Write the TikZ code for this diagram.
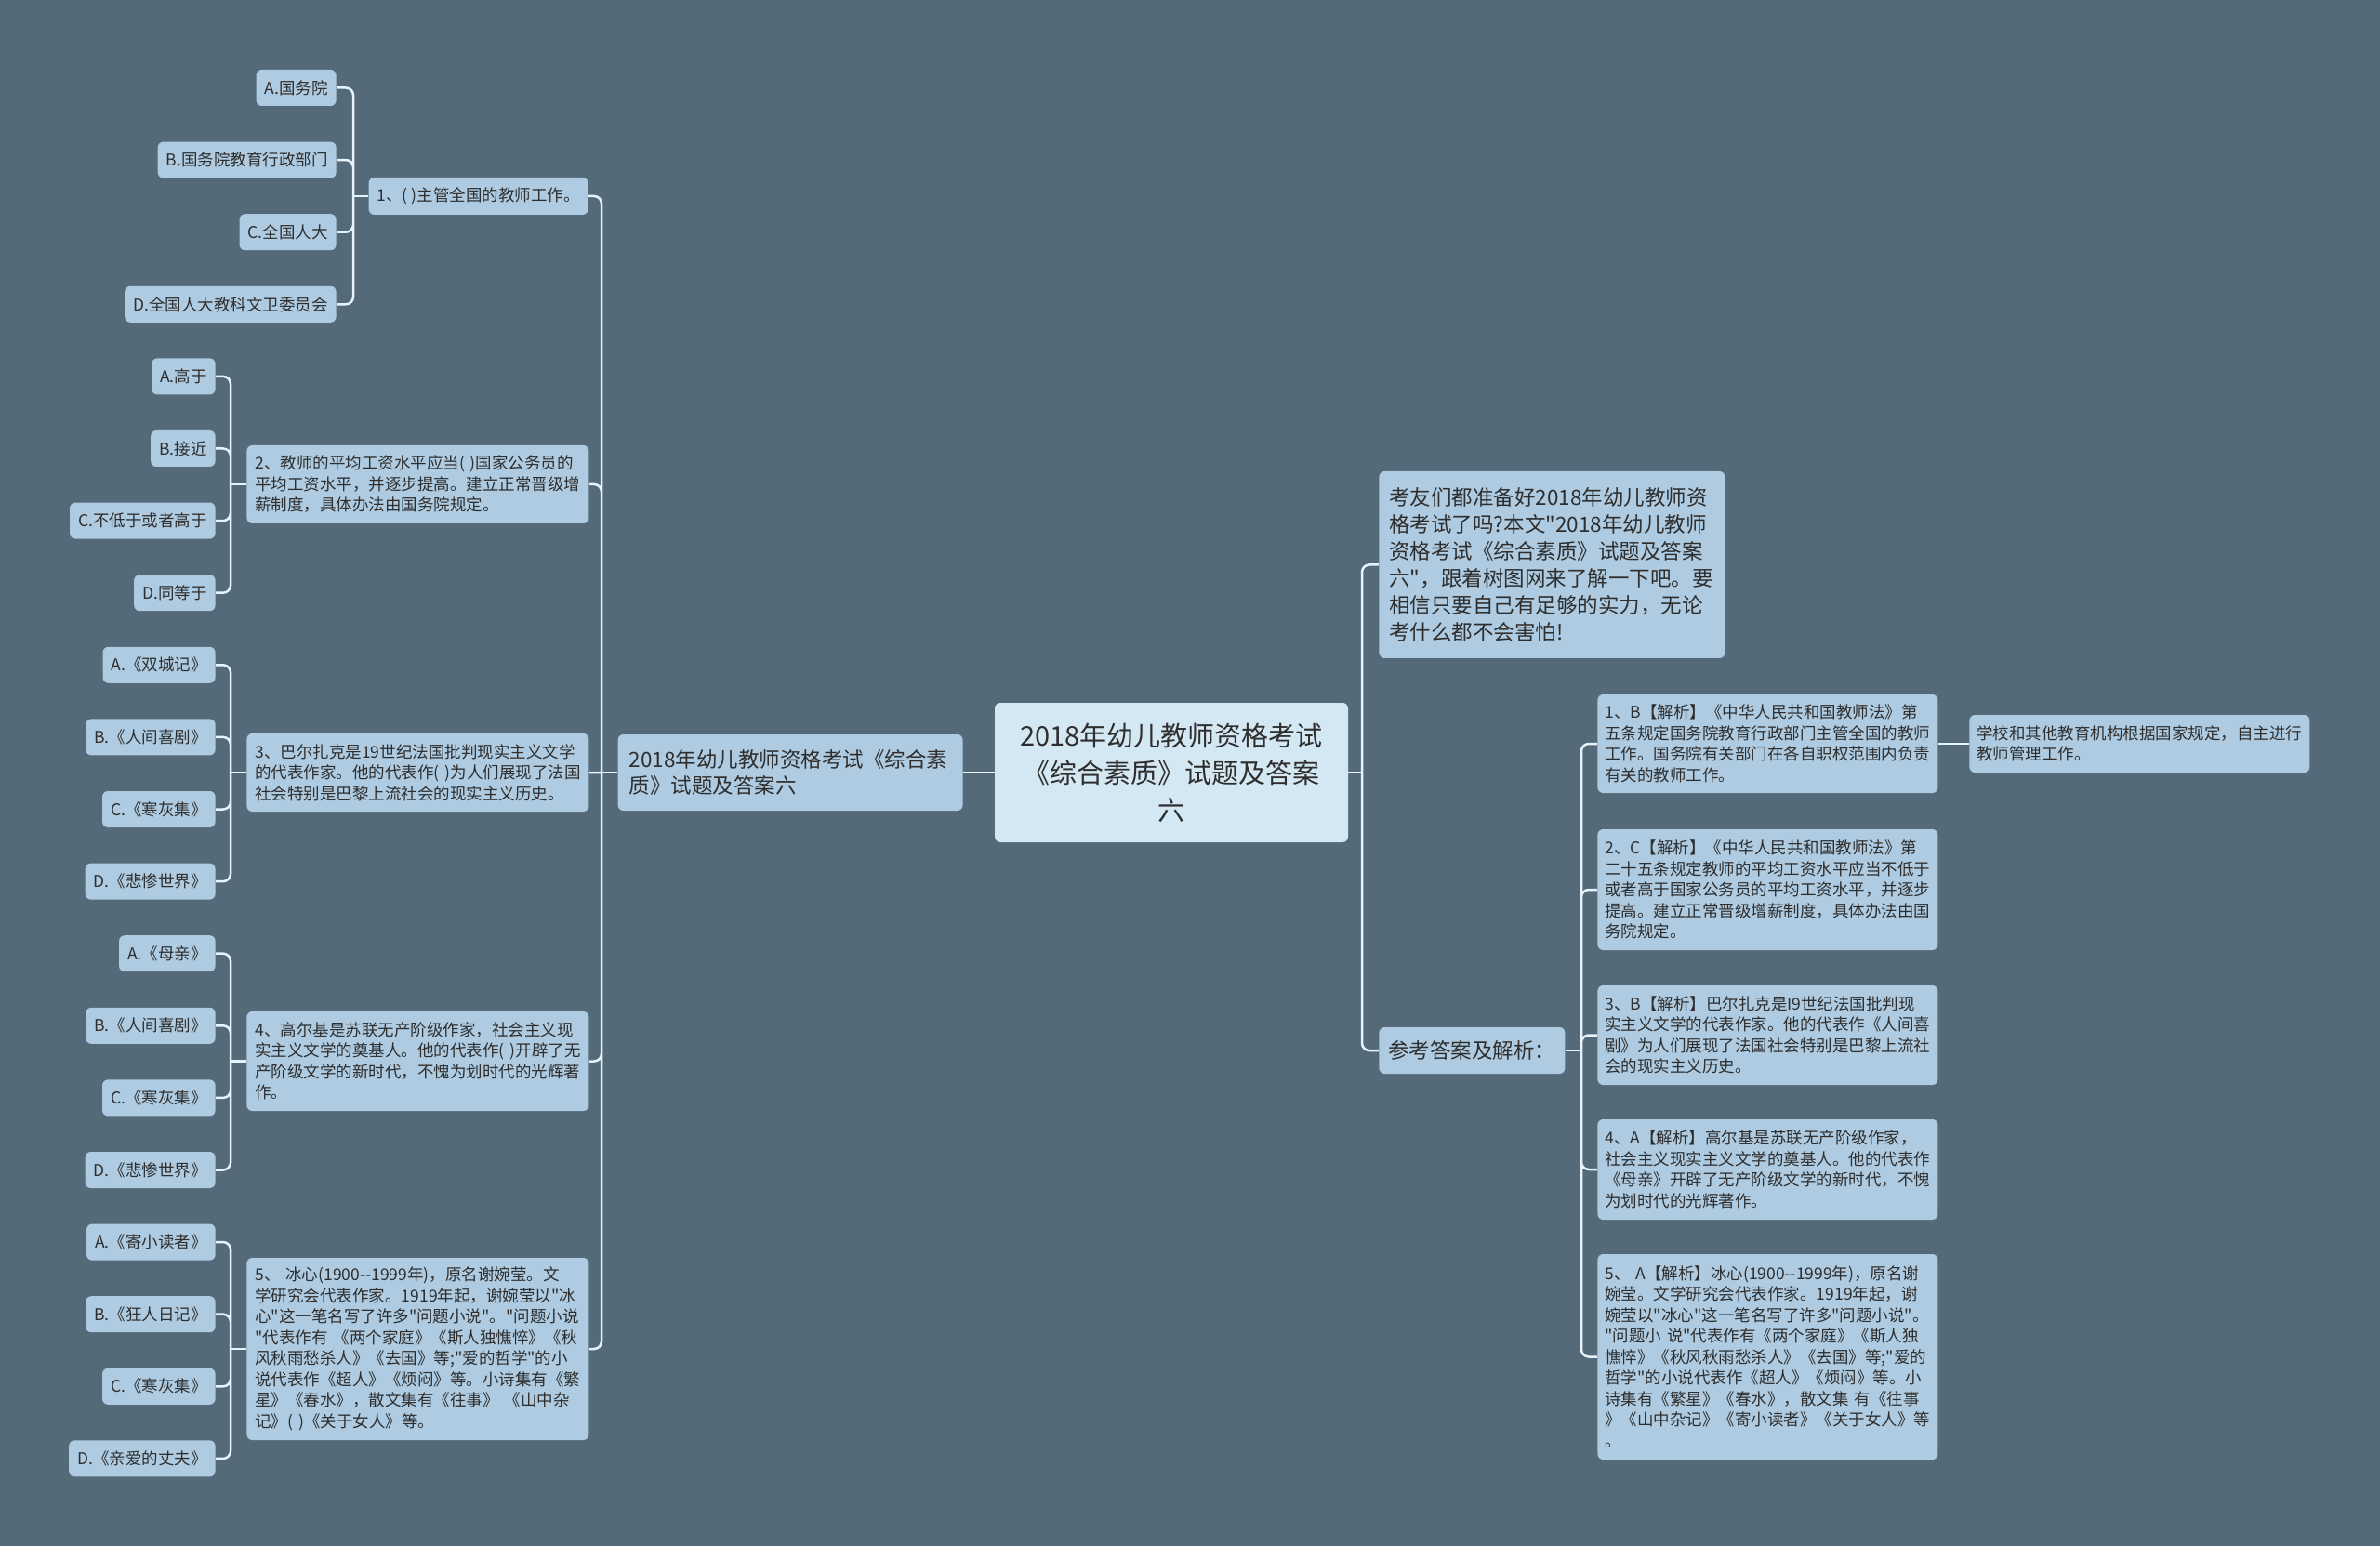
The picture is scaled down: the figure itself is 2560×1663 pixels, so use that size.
\documentclass[tikz,border=0pt]{standalone}
\usepackage{fontspec}
\defaultfontfeatures[\rmfamily]{}
\setmainfont{Noto Sans CJK SC}
\begin{document}
\begin{tikzpicture}[x=0.5pt,y=-0.5pt,
  box/.style={fill=boxblue,rounded corners=3pt,text=inkgrey,inner xsep=4.5pt,inner ysep=0pt,align=left},
  small/.style={font=\fontsize{8.75}{11.25}\selectfont},
  leaf/.style={box,small,anchor=east,minimum height=19.5pt},
  topic/.style={box,small,anchor=west,text width=175pt},
  answer/.style={box,small,anchor=west,text width=175pt,inner xsep=4pt},
  link/.style={draw=linkwhite,line width=1.25pt,rounded corners=4pt}]
  \definecolor{bgslate}{HTML}{546A79}
  \definecolor{boxblue}{HTML}{AECBE1}
  \definecolor{rootblue}{HTML}{D4E8F4}
  \definecolor{linkwhite}{HTML}{E6F3FA}
  \definecolor{inkgrey}{HTML}{2E2E2E}
  %% canvas: one unit is one pixel of the 2560 x 1663 sheet
  \fill[bgslate] (0,0) rectangle (2560,1663);
  \useasboundingbox (0,0) rectangle (2560,1663);

  %% centre
  \node[box,fill=rootblue,align=center,minimum width=190pt,minimum height=75pt,
    font=\fontsize{14.5}{20}\selectfont] (root) at (1260,831)
    {2018年幼儿教师资格考试\\《综合素质》试题及答案\\六};
  \node[box,anchor=east,text width=173.5pt,inner xsep=6pt,minimum height=41pt,
    font=\fontsize{11.25}{14}\selectfont] (exam) at (1036,831)
    {2018年幼儿教师资格考试《综合素\\质》试题及答案六};

  %% left: the five questions (~ keeps each line whole)
  \node[box,small,anchor=east,minimum height=20pt] (q1) at (633,211) {1、(~)主管全国的教师工作。};
  \node[topic,minimum height=42pt] (q2) at (265,521)
    {2、教师的平均工资水平应当(~)国家公务员的\\平均工资水平，并逐步提高。建立正常晋级增\\薪制度，具体办法由国务院规定。};
  \node[topic,minimum height=42pt] (q3) at (265,831)
    {3、巴尔扎克是19世纪法国批判现实主义文学\\的代表作家。他的代表作(~)为人们展现了法国\\社会特别是巴黎上流社会的现实主义历史。};
  \node[topic,minimum height=53.5pt] (q4) at (265,1141.5)
    {4、高尔基是苏联无产阶级作家，社会主义现\\实主义文学的奠基人。他的代表作(~)开辟了无\\产阶级文学的新时代，不愧为划时代的光辉著\\作。};
  \node[topic,minimum height=98pt] (q5) at (265,1451)
    {5、~冰心(1900--1999年)，原名谢婉莹。文\\学研究会代表作家。1919年起，谢婉莹以"冰\\心"这一笔名写了许多"问题小说"。"问题小说\\"代表作有~《两个家庭》《斯人独憔悴》《秋\\风秋雨愁杀人》《去国》等;"爱的哲学"的小\\说代表作《超人》《烦闷》等。小诗集有《繁\\星》《春水》，散文集有《往事》~《山中杂\\记》(~)《关于女人》等。};

  %% left: the options, one every 77.6 units
  \node[leaf] (q1a) at (362,94.5) {A.国务院};
  \node[leaf] (q1b) at (362,172.1) {B.国务院教育行政部门};
  \node[leaf] (q1c) at (362,249.7) {C.全国人大};
  \node[leaf] (q1d) at (362,327.3) {D.全国人大教科文卫委员会};
  \node[leaf] (q2a) at (232,404.9) {A.高于};
  \node[leaf] (q2b) at (232,482.5) {B.接近};
  \node[leaf] (q2c) at (232,560.1) {C.不低于或者高于};
  \node[leaf] (q2d) at (232,637.7) {D.同等于};
  \node[leaf] (q3a) at (232,715.3) {A.《双城记》};
  \node[leaf] (q3b) at (232,792.9) {B.《人间喜剧》};
  \node[leaf] (q3c) at (232,870.5) {C.《寒灰集》};
  \node[leaf] (q3d) at (232,948.1) {D.《悲惨世界》};
  \node[leaf] (q4a) at (232,1025.7) {A.《母亲》};
  \node[leaf] (q4b) at (232,1103.3) {B.《人间喜剧》};
  \node[leaf] (q4c) at (232,1180.9) {C.《寒灰集》};
  \node[leaf] (q4d) at (232,1258.5) {D.《悲惨世界》};
  \node[leaf] (q5a) at (232,1336.1) {A.《寄小读者》};
  \node[leaf] (q5b) at (232,1413.7) {B.《狂人日记》};
  \node[leaf] (q5c) at (232,1491.3) {C.《寒灰集》};
  \node[leaf] (q5d) at (232,1568.9) {D.《亲爱的丈夫》};

  %% right: intro and the answers
  \node[box,anchor=west,text width=175pt,inner xsep=5.5pt,minimum height=100.5pt,
    font=\fontsize{11.25}{14.5}\selectfont] (intro) at (1483,607.5)
    {考友们都准备好2018年幼儿教师资\\格考试了吗?本文"2018年幼儿教师\\资格考试《综合素质》试题及答案\\六"，跟着树图网来了解一下吧。要\\相信只要自己有足够的实力，无论\\考什么都不会害怕!};
  \node[box,anchor=west,inner xsep=5pt,minimum height=25pt,
    font=\fontsize{11.25}{14}\selectfont] (ref) at (1483,1130) {参考答案及解析：};
  \node[answer,minimum height=53pt] (a1) at (1718,800)
    {1、B【解析】《中华人民共和国教师法》第\\五条规定国务院教育行政部门主管全国的教师\\工作。国务院有关部门在各自职权范围内负责\\有关的教师工作。};
  \node[answer,minimum height=65pt] (a2) at (1718,957)
    {2、C【解析】《中华人民共和国教师法》第\\二十五条规定教师的平均工资水平应当不低于\\或者高于国家公务员的平均工资水平，并逐步\\提高。建立正常晋级增薪制度，具体办法由国\\务院规定。};
  \node[answer,minimum height=53.5pt] (a3) at (1718,1113.5)
    {3、B【解析】巴尔扎克是I9世纪法国批判现\\实主义文学的代表作家。他的代表作《人间喜\\剧》为人们展现了法国社会特别是巴黎上流社\\会的现实主义历史。};
  \node[answer,minimum height=54pt] (a4) at (1718,1258)
    {4、A【解析】高尔基是苏联无产阶级作家，\\社会主义现实主义文学的奠基人。他的代表作\\《母亲》开辟了无产阶级文学的新时代，不愧\\为划时代的光辉著作。};
  \node[answer,minimum height=110.5pt] (a5) at (1718,1459.5)
    {5、~A【解析】冰心(1900--1999年)，原名谢\\婉莹。文学研究会代表作家。1919年起，谢\\婉莹以"冰心"这一笔名写了许多"问题小说"。\\"问题小~说"代表作有《两个家庭》《斯人独\\憔悴》《秋风秋雨愁杀人》《去国》等;"爱的\\哲学"的小说代表作《超人》《烦闷》等。小\\诗集有《繁星》《春水》，散文集~有《往事\\》《山中杂记》《寄小读者》《关于女人》等\\。};
  \node[answer,minimum height=31pt] (extra) at (2118,800)
    {学校和其他教育机构根据国家规定，自主进行\\教师管理工作。};

  %% connectors: straight stub to a junction, then an elbow to each child
  \coordinate (lj) at (647,831);
  \coordinate (j1) at (380,211);
  \coordinate (j2) at (248,521);
  \coordinate (j3) at (248,831);
  \coordinate (j4) at (248,1141.5);
  \coordinate (j5) at (248,1451);
  \coordinate (rj) at (1465,831);
  \coordinate (aj) at (1701,1130);
  \draw[link] (root.west) -- (exam.east);
  \draw[link] (exam.west) -- (lj);
  \draw[link] (lj) |- (q1.east) (lj) |- (q2.east) (lj) -- (q3.east) (lj) |- (q4.east) (lj) |- (q5.east);
  \draw[link] (q1.west) -- (j1);
  \draw[link] (j1) |- (q1a.east) (j1) |- (q1b.east) (j1) |- (q1c.east) (j1) |- (q1d.east);
  \draw[link] (q2.west) -- (j2);
  \draw[link] (j2) |- (q2a.east) (j2) |- (q2b.east) (j2) |- (q2c.east) (j2) |- (q2d.east);
  \draw[link] (q3.west) -- (j3);
  \draw[link] (j3) |- (q3a.east) (j3) |- (q3b.east) (j3) |- (q3c.east) (j3) |- (q3d.east);
  \draw[link] (q4.west) -- (j4);
  \draw[link] (j4) |- (q4a.east) (j4) |- (q4b.east) (j4) |- (q4c.east) (j4) |- (q4d.east);
  \draw[link] (q5.west) -- (j5);
  \draw[link] (j5) |- (q5a.east) (j5) |- (q5b.east) (j5) |- (q5c.east) (j5) |- (q5d.east);
  \draw[link] (root.east) -- (rj);
  \draw[link] (rj) |- (intro.west) (rj) |- (ref.west);
  \draw[link] (ref.east) -- (aj);
  \draw[link] (aj) |- (a1.west) (aj) |- (a2.west) (aj) |- (a3.west) (aj) |- (a4.west) (aj) |- (a5.west);
  \draw[link] (a1.east) -- (extra.west);
\end{tikzpicture}
\end{document}
